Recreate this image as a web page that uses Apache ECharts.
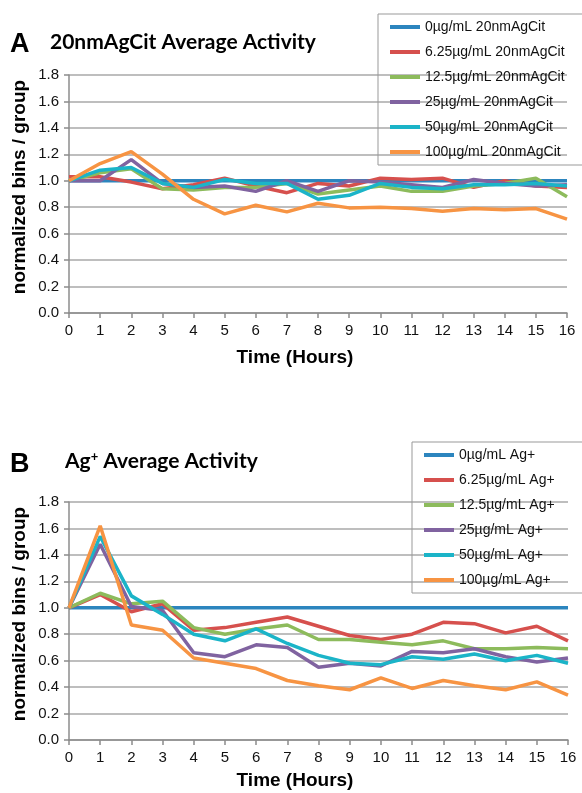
<!DOCTYPE html>
<html><head><meta charset="utf-8">
<script src="https://cdn.jsdelivr.net/npm/echarts@6/dist/echarts.min.js"></script>
<style>html,body{margin:0;padding:0;background:#fff}#c{width:582px;height:793px}</style>
</head><body><div id="c"></div>
<script>
const hours = ['0','1','2','3','4','5','6','7','8','9','10','11','12','13','14','15','16'];

const namesA = ['0µg/mL 20nmAgCit','6.25µg/mL 20nmAgCit','12.5µg/mL 20nmAgCit','25µg/mL 20nmAgCit','50µg/mL 20nmAgCit','100µg/mL 20nmAgCit'];
const a0   = [1.00,1.00,1.00,1.00,1.00,1.00,1.00,1.00,1.00,1.00,1.00,1.00,1.00,1.00,1.00,1.00,1.00];
const a625 = [1.03,1.03,0.99,0.94,0.97,1.02,0.96,0.91,0.98,0.96,1.02,1.01,1.02,0.95,1.00,0.96,0.95];
const a125 = [1.00,1.06,1.09,0.94,0.93,0.95,0.95,0.98,0.90,0.93,0.96,0.92,0.92,0.96,0.98,1.02,0.88];
const a25  = [1.00,1.00,1.16,0.98,0.95,0.96,0.92,1.00,0.92,1.00,0.99,0.97,0.95,1.01,0.98,0.96,0.97];
const a50  = [1.00,1.08,1.10,0.98,0.95,1.01,0.98,0.98,0.86,0.89,0.98,0.95,0.94,0.97,0.97,0.98,0.96];
const a100 = [1.00,1.13,1.22,1.05,0.86,0.75,0.815,0.765,0.83,0.795,0.80,0.79,0.77,0.79,0.78,0.79,0.71];

const namesB = ['0µg/mL Ag+','6.25µg/mL Ag+','12.5µg/mL Ag+','25µg/mL Ag+','50µg/mL Ag+','100µg/mL Ag+'];
const b0   = [1.00,1.00,1.00,1.00,1.00,1.00,1.00,1.00,1.00,1.00,1.00,1.00,1.00,1.00,1.00,1.00,1.00];
const b625 = [1.00,1.10,0.97,1.03,0.83,0.85,0.89,0.93,0.86,0.79,0.76,0.80,0.89,0.88,0.81,0.86,0.75];
const b125 = [1.00,1.11,1.03,1.05,0.85,0.80,0.84,0.87,0.76,0.76,0.74,0.72,0.75,0.69,0.69,0.70,0.69];
const b25  = [1.00,1.48,1.01,0.98,0.66,0.63,0.72,0.70,0.55,0.58,0.56,0.67,0.66,0.69,0.63,0.59,0.62];
const b50  = [1.00,1.54,1.09,0.95,0.80,0.75,0.84,0.73,0.64,0.58,0.57,0.63,0.61,0.65,0.60,0.64,0.58];
const b100 = [1.00,1.62,0.87,0.83,0.62,0.58,0.54,0.45,0.41,0.38,0.47,0.39,0.45,0.41,0.38,0.44,0.34];

const colors = ['#2C85BE','#D6504D','#8DBB5C','#8063A0','#1BB4C8','#F79443'];

const chart = echarts.init(document.getElementById('c'));
const font = 'Liberation Sans, Arial, sans-serif';

function xAxis(gi){
  return {type:'category', gridIndex:gi, data:hours, boundaryGap:false,
    axisLine:{lineStyle:{color:'#8c8c8c', width:1.5}},
    axisTick:{show:true, length:5, lineStyle:{color:'#8c8c8c', width:1.5}},
    axisLabel:{color:'#111', fontSize:15, fontFamily:font, margin:10},
    splitLine:{show:false}};
}
function yAxis(gi){
  return {type:'value', gridIndex:gi, min:0, max:1.8, interval:0.2,
    axisLine:{show:true, lineStyle:{color:'#8c8c8c', width:1.5}},
    axisTick:{show:true, length:5, lineStyle:{color:'#8c8c8c', width:1.5}},
    axisLabel:{color:'#111', fontSize:15, fontFamily:font, margin:10, formatter:v=>v.toFixed(1)},
    splitLine:{lineStyle:{color:'#a8a8a8', width:1.5}}};
}
function ser(name, data, i, gi){
  return {type:'line', name, data, xAxisIndex:gi, yAxisIndex:gi, symbol:'none',
    lineStyle:{width:3.5, color:colors[i]}, itemStyle:{color:colors[i]}, animation:false};
}
function legend(names, left, top, padR){
  return {data:names, orient:'vertical', left, top, itemWidth:30, itemHeight:4, icon:'rect',
    itemGap:9, padding:[5,padR,5,12], borderColor:'#999', borderWidth:1,
    textStyle:{fontSize:14, fontFamily:font, color:'#111', lineHeight:16}};
}

chart.setOption({
  animation:false,
  grid:[{left:69, right:15, top:75, height:238}, {left:69, right:14, top:502, height:238}],
  xAxis:[xAxis(0), xAxis(1)],
  yAxis:[yAxis(0), yAxis(1)],
  legend:[legend(namesA, 378, 14, 30), legend(namesB, 412, 442, 40)],
  series:[
    ser(namesA[0],a0,0,0), ser(namesA[1],a625,1,0), ser(namesA[2],a125,2,0),
    ser(namesA[3],a25,3,0), ser(namesA[4],a50,4,0), ser(namesA[5],a100,5,0),
    ser(namesB[0],b0,0,1), ser(namesB[1],b625,1,1), ser(namesB[2],b125,2,1),
    ser(namesB[3],b25,3,1), ser(namesB[4],b50,4,1), ser(namesB[5],b100,5,1)
  ],
  graphic:[
    {type:'text', left:10, top:31, style:{text:'A', font:'bold 27px Liberation Sans', fill:'#000'}},
    {type:'text', left:50, top:32, style:{text:'20nmAgCit Average Activity', font:'bold 21px Lato', fill:'#000'}},
    {type:'text', left:10, top:451, style:{text:'B', font:'bold 27px Liberation Sans', fill:'#000'}},
    {type:'text', left:65, top:450, style:{text:'Ag{s|+} Average Activity', font:'bold 21px Lato', fill:'#000',
       rich:{s:{font:'bold 13px Lato', verticalAlign:'top', padding:[0,0,9,0]}}}},
    {type:'text', x:20, y:187, rotation:Math.PI/2, style:{text:'normalized bins / group', font:'bold 19px Liberation Sans', fill:'#000', align:'center', verticalAlign:'middle'}},
    {type:'text', x:20, y:614, rotation:Math.PI/2, style:{text:'normalized bins / group', font:'bold 19px Liberation Sans', fill:'#000', align:'center', verticalAlign:'middle'}},
    {type:'text', x:295, y:358, style:{text:'Time (Hours)', font:'bold 19px Liberation Sans', fill:'#000', align:'center', verticalAlign:'middle'}},
    {type:'text', x:295, y:781, style:{text:'Time (Hours)', font:'bold 19px Liberation Sans', fill:'#000', align:'center', verticalAlign:'middle'}}
  ]
});
</script></body></html>
